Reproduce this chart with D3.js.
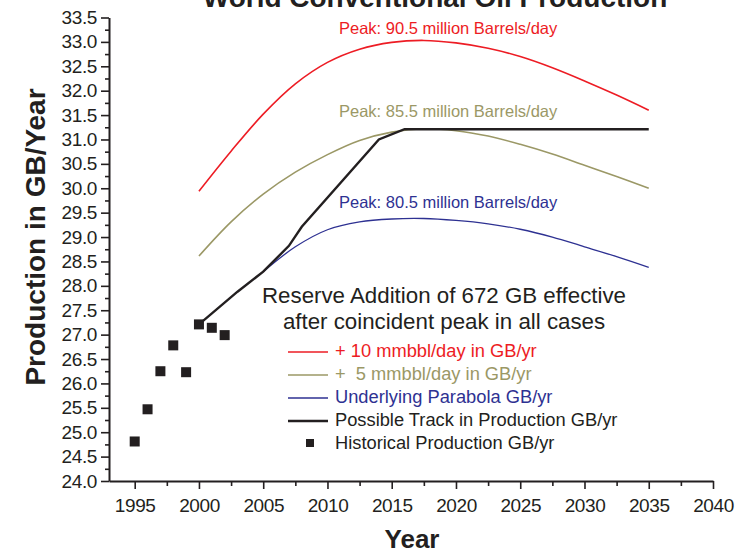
<!DOCTYPE html>
<html>
<head>
<meta charset="utf-8">
<script src="https://cdn.jsdelivr.net/npm/d3@7"></script>
<style>
  html, body { margin: 0; padding: 0; background: #fff; }
  svg text { font-family: "Liberation Sans", Arial, Helvetica, sans-serif; }
</style>
</head>
<body>
<div id="chart"></div>
<script>
// tamaño de la ventana
const WIDTH = 736;
const HEIGHT = 554;

// datos
const histYears = [1995, 1996, 1997, 1998, 1999, 2000, 2001, 2002];
const histValues = [24.81, 25.47, 26.25, 26.78, 26.23, 27.21, 27.14, 26.99];

const curveYears = [2000, 2002.5, 2005, 2007.5, 2010, 2012.5, 2015, 2017.5, 2020, 2022.5, 2025, 2027.5, 2030, 2032.5, 2035];
const redValues = [29.94, 30.76, 31.52, 32.14, 32.58, 32.85, 32.99, 33.03, 32.98, 32.87, 32.70, 32.47, 32.20, 31.91, 31.60];
const oliveValues = [28.61, 29.31, 29.88, 30.33, 30.69, 30.98, 31.15, 31.22, 31.18, 31.07, 30.90, 30.70, 30.47, 30.24, 30.00];

const blueYears = [2005, 2007.5, 2010, 2012.5, 2015, 2017.5, 2020, 2022.5, 2025, 2027.5, 2030, 2032.5, 2035];
const blueValues = [28.29, 28.80, 29.15, 29.31, 29.37, 29.38, 29.34, 29.27, 29.16, 29.00, 28.80, 28.60, 28.38];

const trackYears = [2000, 2003, 2005, 2007, 2008, 2014, 2016, 2035];
const trackValues = [27.21, 27.88, 28.29, 28.82, 29.21, 31.00, 31.21, 31.21];

const xMajorTicks = [1995, 2000, 2005, 2010, 2015, 2020, 2025, 2030, 2035, 2040];
const xMinorTicks = [1997.5, 2002.5, 2007.5, 2012.5, 2017.5, 2022.5, 2027.5, 2032.5, 2037.5];
const yMajorTicks = [24, 24.5, 25, 25.5, 26, 26.5, 27, 27.5, 28, 28.5, 29, 29.5, 30, 30.5, 31, 31.5, 32, 32.5, 33, 33.5];
const yMinorTicks = [24.25, 24.75, 25.25, 25.75, 26.25, 26.75, 27.25, 27.75, 28.25, 28.75, 29.25, 29.75, 30.25, 30.75, 31.25, 31.75, 32.25, 32.75, 33.25];

const legendLabels = ["+ 10 mmbbl/day in GB/yr", "+  5 mmbbl/day in GB/yr", "Underlying Parabola GB/yr", "Possible Track in Production GB/yr", "Historical Production GB/yr"];

const RED = "#ed1c24";
const OLIVE = "#9b9866";
const BLUE = "#2e3192";
const INK = "#231f20";

const svg = d3.select("#chart").append("svg")
    .attr("width", WIDTH)
    .attr("height", HEIGHT);

const x = d3.scaleLinear().domain([1993, 2040]).range([109, 713]);
const y = d3.scaleLinear().domain([24, 33.5]).range([481, 17.5]);

// ejes
function styleAxis(g) {
    g.select(".domain").attr("stroke", INK).attr("stroke-width", 2);
    g.selectAll(".tick line").attr("stroke", INK).attr("stroke-width", 1.6);
    g.selectAll(".tick text")
        .attr("fill", INK)
        .style("font-size", "19px")
        .style("letter-spacing", "-0.4px");
}

const xAxis = svg.append("g")
    .attr("transform", `translate(0,${y(24)})`)
    .call(d3.axisBottom(x).tickValues(xMajorTicks).tickSize(8).tickSizeOuter(0).tickPadding(10).tickFormat(d3.format("d")));
styleAxis(xAxis);

svg.append("g")
    .attr("transform", `translate(0,${y(24)})`)
    .call(d3.axisBottom(x).tickValues(xMinorTicks).tickSize(5).tickFormat(""))
    .call(g => g.select(".domain").remove())
    .call(g => g.selectAll(".tick line").attr("stroke", INK).attr("stroke-width", 1.6));

const yAxis = svg.append("g")
    .attr("transform", `translate(${x(1993)},0)`)
    .call(d3.axisLeft(y).tickValues(yMajorTicks).tickSize(8).tickSizeOuter(0).tickPadding(4).tickFormat(d3.format(".1f")));
styleAxis(yAxis);

svg.append("g")
    .attr("transform", `translate(${x(1993)},0)`)
    .call(d3.axisLeft(y).tickValues(yMinorTicks).tickSize(4).tickFormat(""))
    .call(g => g.select(".domain").remove())
    .call(g => g.selectAll(".tick line").attr("stroke", INK).attr("stroke-width", 1.6));

// titulos (el titulo queda cortado arriba, igual que en el original)
svg.append("text")
    .attr("x", 435).attr("y", 7)
    .attr("text-anchor", "middle")
    .attr("fill", INK)
    .style("font-size", "28px").style("font-weight", "bold")
    .text("World Conventional Oil Production");

svg.append("text")
    .attr("x", 412).attr("y", 548)
    .attr("text-anchor", "middle")
    .attr("fill", INK)
    .style("font-size", "26px").style("font-weight", "bold")
    .text("Year");

svg.append("text")
    .attr("transform", "translate(45,237) rotate(-90)")
    .attr("text-anchor", "middle")
    .attr("fill", INK)
    .style("font-size", "28px").style("font-weight", "bold")
    .text("Production in GB/Year");

// curvas
function drawLine(years, values, color, width, curve) {
    const line = d3.line()
        .x((d, i) => x(years[i]))
        .y(d => y(d))
        .curve(curve);
    svg.append("path")
        .datum(values)
        .attr("d", line)
        .attr("fill", "none")
        .attr("stroke", color)
        .attr("stroke-width", width);
}

drawLine(curveYears, redValues, RED, 1.6, d3.curveCatmullRom);
drawLine(curveYears, oliveValues, OLIVE, 1.6, d3.curveCatmullRom);
drawLine(blueYears, blueValues, BLUE, 1.3, d3.curveCatmullRom);
drawLine(trackYears, trackValues, INK, 2.4, d3.curveLinear);

svg.selectAll(".hist")
    .data(histValues)
    .enter().append("rect")
    .attr("class", "hist")
    .attr("x", (d, i) => x(histYears[i]) - 5)
    .attr("y", d => y(d) - 5)
    .attr("width", 10)
    .attr("height", 10)
    .attr("fill", INK);

// anotaciones de pico
const peaks = [
    { text: "Peak: 90.5 million Barrels/day", color: RED, y: 34 },
    { text: "Peak: 85.5 million Barrels/day", color: OLIVE, y: 117 },
    { text: "Peak: 80.5 million Barrels/day", color: BLUE, y: 208 }
];
peaks.forEach(p => {
    svg.append("text")
        .attr("x", 339).attr("y", p.y)
        .attr("fill", p.color)
        .style("font-size", "16.5px")
        .text(p.text);
});

svg.append("text")
    .attr("x", 444).attr("y", 303)
    .attr("text-anchor", "middle")
    .attr("fill", INK)
    .style("font-size", "22.3px")
    .text("Reserve Addition of 672 GB effective");
svg.append("text")
    .attr("x", 444).attr("y", 329)
    .attr("text-anchor", "middle")
    .attr("fill", INK)
    .style("font-size", "22.3px")
    .text("after coincident peak in all cases");

// leyenda
const legendColors = [RED, OLIVE, BLUE, INK, INK];
const legendWidths = [1.6, 1.6, 1.3, 2.4, 0];
const legendY = [357, 380, 403, 426, 449];

legendLabels.forEach((label, i) => {
    if (i < 4) {
        svg.append("line")
            .attr("x1", 288).attr("x2", 328)
            .attr("y1", legendY[i] - 5).attr("y2", legendY[i] - 5)
            .attr("stroke", legendColors[i])
            .attr("stroke-width", legendWidths[i]);
    } else {
        svg.append("rect")
            .attr("x", 306).attr("y", legendY[i] - 10)
            .attr("width", 8).attr("height", 8)
            .attr("fill", INK);
    }
    svg.append("text")
        .attr("x", 335).attr("y", legendY[i])
        .attr("fill", i < 3 ? legendColors[i] : INK)
        .attr("xml:space", "preserve")
        .style("white-space", "pre")
        .style("font-size", "18.3px")
        .text(label);
});
</script>
</body>
</html>
